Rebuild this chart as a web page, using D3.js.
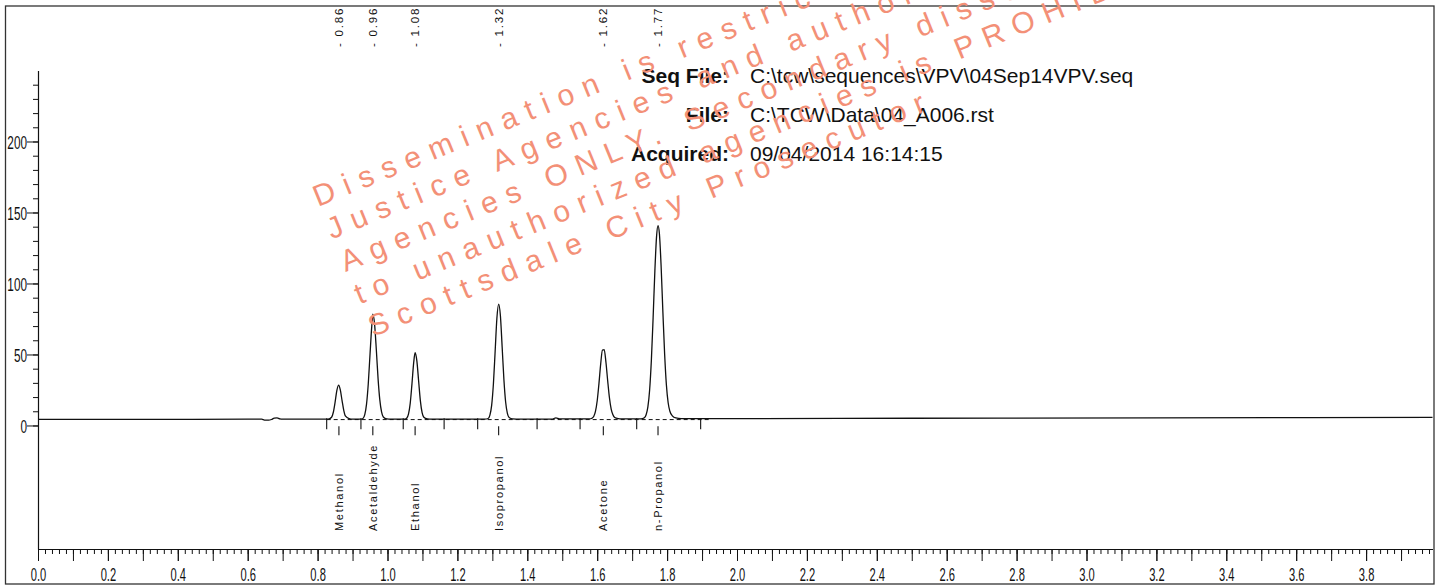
<!DOCTYPE html>
<html><head><meta charset="utf-8">
<script src="https://cdn.jsdelivr.net/npm/d3@7"></script>
<style>html,body{margin:0;padding:0;background:#fff;overflow:hidden}text{font-family:"Liberation Sans",Arial,sans-serif}</style>
</head><body>
<svg id="c" width="1441" height="586"></svg>
<script>
// ---------- data ----------
const compounds = ["Methanol","Acetaldehyde","Ethanol","Isopropanol","Acetone","n-Propanol"];
const rtLabels = ["0.86","0.96","1.08","1.32","1.62","1.77"];
const peakApexTimes = [0.861,0.958,1.079,1.318,1.6175,1.774];
const eventTimes = [0.826,0.924,1.045,1.162,1.258,1.428,1.551,1.713,1.896];
const integrationStart = 0.826, integrationEnd = 1.92, integrationLevel = 4.5;
const traceTimes = [
  0.00,0.30,0.60,0.640,0.648,0.660,0.668,0.676,0.684,0.692,0.700,0.80,0.82,
  0.830,0.840,0.845,0.850,0.855,0.860,0.865,0.870,0.875,0.880,0.890,0.900,0.925,
  0.930,0.935,0.940,0.945,0.950,0.955,0.958,0.963,0.968,0.973,0.978,0.983,0.988,0.998,1.010,
  1.050,1.055,1.060,1.065,1.070,1.075,1.079,1.084,1.089,1.094,1.099,1.104,1.114,1.125,
  1.278,1.288,1.293,1.298,1.303,1.308,1.313,1.318,1.323,1.328,1.333,1.338,1.343,1.348,1.358,1.368,
  1.470,1.482,1.492,
  1.5775,1.585,1.590,1.595,1.600,1.605,1.610,1.615,1.620,1.625,1.630,1.635,1.640,1.645,1.650,1.660,1.670,
  1.725,1.735,1.740,1.745,1.750,1.755,1.760,1.765,1.770,1.774,1.778,1.783,1.788,1.793,1.798,1.803,1.808,1.815,1.825,1.840,
  1.900,2.50,3.20,3.99
];
const traceValues = [
  4.3,4.3,4.4,4.4,3.8,3.7,4.2,5.2,5.4,4.6,4.4,4.4,4.4,
  4.4,5.8,9.3,16.3,24.5,28.4,25.0,17.5,10.5,6.5,4.8,4.4,4.4,
  5.0,7.6,15.0,29.4,50.1,70.0,78.4,71.5,53.5,33.0,18.0,9.5,6.0,4.6,4.4,
  4.4,5.1,8.0,15.6,29.3,44.4,51.2,45.5,31.5,17.5,9.0,5.8,4.6,4.4,
  4.4,4.9,7.3,14.2,29.2,52.3,75.5,85.5,77.5,55.5,32.5,16.5,8.5,5.6,4.6,4.5,
  4.5,5.3,4.6,
  4.6,5.1,6.3,9.9,17.4,29.5,43.4,53.1,53.4,44.5,31.5,19.5,11.5,7.5,5.6,4.8,4.6,
  4.6,5.5,7.6,13.1,25.0,46.0,75.9,108.8,133.7,140.8,135.0,111.5,79.5,50.0,28.5,16.0,10.0,6.8,5.3,4.8,
  4.8,5.1,5.4,5.7
];
const xTickLabels = ["0.0","0.2","0.4","0.6","0.8","1.0","1.2","1.4","1.6","1.8","2.0","2.2","2.4","2.6","2.8","3.0","3.2","3.4","3.6","3.8"];
const yTickLabels = ["0","50","100","150","200"];
const headerLabels = ["Seq File:","File:","Acquired:"];
const headerValues = ["C:\\tcw\\sequences\\VPV\\04Sep14VPV.seq","C:\\TCW\\Data\\04_A006.rst","09/04/2014 16:14:15"];
const watermarkLines = [
  "Dissemination is restricted to Criminal",
  "Justice Agencies and authorized non-Criminal",
  "Agencies ONLY. Secondary dissemination",
  "to unauthorized agencies is PROHIBITED",
  "Scottsdale City Prosecutor"
];

// ---------- drawing ----------
const svg = d3.select("#c");
const x = d3.scaleLinear().domain([0, 3.99]).range([38, 38 + 3.99 * 349.5]);
const y = d3.scaleLinear().domain([-87, 250]).range([549, 70.5]);
const ink = "#111";
const narrow = 0.62;

// frame
svg.append("rect").attr("x", 5.5).attr("y", 6).attr("width", 1428.5).attr("height", 578)
  .attr("fill", "none").attr("stroke", "#333").attr("stroke-width", 1.3);

// x axis minor
const minorX = d3.range(0, 200).map(i => i * 0.02).filter(v => v <= 3.99);
svg.append("g").attr("transform", `translate(0,${y(-87)})`)
  .call(d3.axisBottom(x).tickValues(minorX).tickSize(5).tickFormat(""))
  .call(g => g.select(".domain").remove())
  .selectAll("line").attr("stroke", ink);
const midX = d3.range(0, 40).map(i => i * 0.1).filter(v => v <= 3.99);
svg.append("g").attr("transform", `translate(0,${y(-87)})`)
  .call(d3.axisBottom(x).tickValues(midX).tickSize(12).tickFormat(""))
  .call(g => g.select(".domain").remove())
  .selectAll("line").attr("stroke", ink);
const gx = svg.append("g").attr("transform", `translate(0,${y(-87)})`)
  .call(d3.axisBottom(x).tickValues(xTickLabels.map(Number)).tickSize(12).tickSizeOuter(0)
    .tickFormat((d, i) => xTickLabels[i]));
gx.select(".domain").attr("stroke", ink).attr("stroke-width", 1.2);
gx.selectAll("line").attr("stroke", ink);
gx.selectAll("text").attr("y", 0).attr("dy", 0).attr("transform", `translate(0,32) scale(${narrow},1)`)
  .attr("font-size", 18).attr("fill", ink).attr("font-family", "Liberation Sans, Arial, sans-serif");

// y axis
const minorY = d3.range(0, 250, 10);
svg.append("g").attr("transform", `translate(${x(0)},0)`)
  .call(d3.axisLeft(y).tickValues(minorY).tickSize(5).tickFormat(""))
  .call(g => g.select(".domain").remove())
  .selectAll("line").attr("stroke", ink);
const gy = svg.append("g").attr("transform", `translate(${x(0)},0)`)
  .call(d3.axisLeft(y).tickValues(yTickLabels.map(Number)).tickSize(11).tickSizeOuter(0)
    .tickFormat((d, i) => yTickLabels[i]));
gy.select(".domain").attr("stroke", ink).attr("stroke-width", 1.2);
gy.selectAll("line").attr("stroke", ink);
gy.selectAll("text").attr("x", -11 / narrow).attr("dy", "0.36em")
  .attr("transform", `scale(${narrow},1)`).attr("font-size", 19).attr("fill", ink)
  .attr("font-family", "Liberation Sans, Arial, sans-serif");

// integration baseline (dashed)
svg.append("line").attr("x1", x(integrationStart)).attr("x2", x(integrationEnd))
  .attr("y1", y(integrationLevel) + 0.5).attr("y2", y(integrationLevel) + 0.5)
  .attr("stroke", ink).attr("stroke-width", 1).attr("stroke-dasharray", "4,3");

// trace
const pts = traceTimes.map((t, i) => [t, traceValues[i]]);
svg.append("path").datum(pts)
  .attr("d", d3.line().x(d => x(d[0])).y(d => y(d[1])).curve(d3.curveMonotoneX))
  .attr("fill", "none").attr("stroke", ink).attr("stroke-width", 1.3);

// event marks
const base = y(4.4);
svg.selectAll(".ev").data(eventTimes).join("line")
  .attr("x1", d => x(d)).attr("x2", d => x(d)).attr("y1", base - 1).attr("y2", base + 10)
  .attr("stroke", ink).attr("stroke-width", 1.1);
svg.selectAll(".pk").data(peakApexTimes).join("line")
  .attr("x1", d => x(d)).attr("x2", d => x(d)).attr("y1", base + 7).attr("y2", base + 16)
  .attr("stroke", ink).attr("stroke-width", 1.1);

// retention time labels (top)
svg.selectAll(".rt").data(rtLabels).join("text")
  .attr("transform", (d, i) => `translate(${x(peakApexTimes[i]) + 4},47) rotate(-90)`)
  .attr("font-size", 11.5).attr("letter-spacing", 1.8).attr("fill", ink)
  .text(d => "- " + d);

// compound labels (bottom)
svg.selectAll(".cn").data(compounds).join("text")
  .attr("transform", (d, i) => `translate(${x(peakApexTimes[i]) + 4},531) rotate(-90)`)
  .attr("font-size", 11).attr("letter-spacing", 1.7).attr("fill", ink)
  .text(d => d);

// header info
headerLabels.forEach((lab, i) => {
  svg.append("text").attr("x", 729).attr("y", 83 + i * 39).attr("text-anchor", "end")
    .attr("font-size", 21).attr("font-weight", "bold").attr("fill", ink).text(lab);
  svg.append("text").attr("x", 750).attr("y", 83 + i * 39)
    .attr("font-size", 21).attr("fill", ink).text(headerValues[i]);
});

// watermark
const wm = svg.append("g").attr("transform", "translate(318,207) rotate(-22.2)");
wm.selectAll("text").data(watermarkLines).join("text")
  .attr("x", (d, i) => i * 0.5).attr("y", (d, i) => i * 35.3)
  .attr("font-size", 30).attr("letter-spacing", 9.8).attr("fill", "#f39077")
  .text(d => d);
</script>
</body></html>
